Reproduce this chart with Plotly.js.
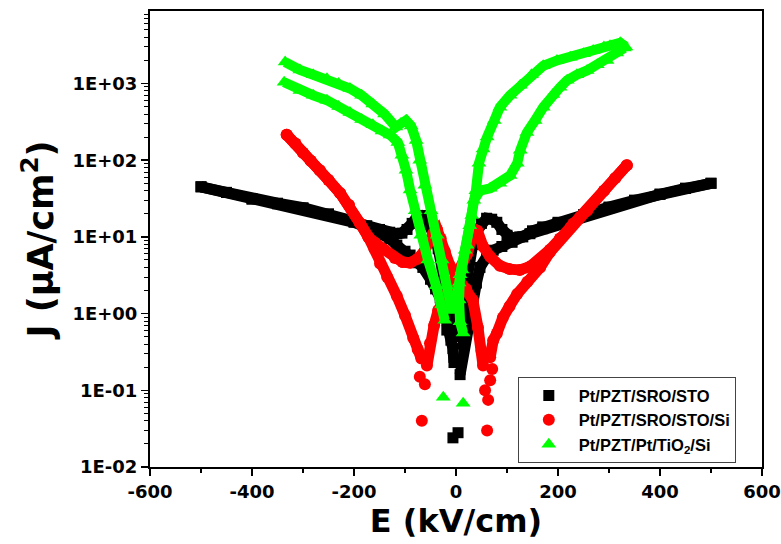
<!DOCTYPE html>
<html>
<head>
<meta charset="utf-8">
<script src="https://cdn.plot.ly/plotly-3.0.1.min.js"></script>
<style>html,body{margin:0;padding:0;background:#fff}#chart{width:781px;height:544px}</style>
</head>
<body>
<div id="chart"></div>
<script>
// ---- series names ----
const seriesNames = ['Pt/PZT/SRO/STO', 'Pt/PZT/SRO/STO/Si', 'Pt/PZT/Pt/TiO<sub>2</sub>/Si'];

// ---- Pt/PZT/SRO/STO (E in kV/cm, J in µA/cm²); null separates sweep segments ----
const blackE = [
  -500,-450,-400,-350,-300,-250,-200,-170,-150,-130,-116,-100,-90,-75,-65,-50,-40,-31,-24,-18,-10,-6,-4, null,
  -6, null, 4, null,
  2,8,14,20,26,33,41,50,60,70,80,90,100,110,125,145,170,200,250,300,350,400,450,500, null,
  500,450,400,350,300,250,200,170,150,131,110,90,73,60,47,40,33,27,20,14,8, null,
  -2,-8,-14,-20,-27,-35,-43,-52,-60,-68,-76,-86,-96,-106,-116,-130,-150,-175,-200,-250,-300,-350,-400,-450,-500
];
const blackJ = [
  45,38,31,27,23.5,19.5,15.5,13,11.5,9.5,7.8,6.5,5.8,4.6,4.0,2.8,2.1,1.6,1.1,0.61,0.45,0.35,0.23, null,
  0.024, null, 0.028, null,
  0.5,0.9,1.6,2.8,5,8,12,15,17.5,17,15.5,12.5,10.5,9.6,10,11,12.8,15,19,24,30,36,43,50, null,
  50,43,36,30,24.5,19.5,15.5,13.5,12,10,8.5,7.5,6.7,5.5,4,2.5,1.4,0.9,0.6,0.4,0.16, null,
  0.55,0.9,1.5,2.5,4.2,7,10.5,14.5,17.5,19,18.5,15,12.5,11.2,11,11.5,12.5,14,16,20,24,27.5,31.5,38,45
];

// ---- Pt/PZT/SRO/STO/Si ----
const redE = [
  -332,-315,-300,-285,-267,-250,-227,-210,-188,-172,-160,-149,-135,-116,-100,-84,-75,-68, null,
  -71, null, -61, null, -67, null,
  -57,-51,-43,-35,-20,0,12,22,30,36,42,53,67,86,105,125,145,165,184,204,225,243,257,290,312,335, null,
  335,312,290,257,230,204,184,165,140,120,105,92,80,73,67, null,
  71, null, 67, null, 57, null, 63, null, 61, null,
  53,50,43,33,20,0,-12,-22,-30,-37,-45,-51,-62,-75,-90,-105,-120,-140,-160,-172,-188,-210,-227,-250,-267,-285,-300,-315,-332
];
const redJ = [
  215,165,125,98,74,55,37,26,15,10,7,4.5,3,1.7,0.95,0.48,0.34,0.26, null,
  0.15, null, 0.12, null, 0.04, null,
  0.21,0.41,0.7,1.1,1.7,2.8,3.8,6,9.5,12.5,12,7.5,5.5,4.2,3.8,3.7,4.1,5.1,6.8,9.5,13.5,18,22,40,58,86, null,
  86,58,40,22,15,9.5,6.3,4,2.6,1.8,1.25,0.89,0.55,0.45,0.27, null,
  0.19, null, 0.135, null, 0.1, null, 0.075, null, 0.03, null,
  0.21,0.33,0.66,1.5,2.1,3,4.2,6.5,9.5,12.5,11,9,6.5,5.2,4.6,4.7,5.3,6.8,8.5,10,15,26,37,55,74,98,125,165,215
];

// ---- Pt/PZT/Pt/TiO2/Si ----
const greenE = [
  -337,-306,-280,-253,-230,-208,-185,-163,-145,-129,-114,-106,-98,-90,-80,-69,-55,-39,-28,-22, null,
  -25, null,
  0,6,12,22,31,39,45,53,61,75,86,106,126,148,171,198,224,250,269,290,302,322,333, null,
  330,315,296,277,257,237,218,204,190,171,155,139,126,120,106,86,67,47,35,27,18,8,6,8,14, null,
  14, null,
  -8,-18,-27,-37,-49,-61,-71,-78,-88,-98,-108,-118,-140,-163,-185,-208,-230,-253,-280,-306,-335
];
const greenJ = [
  1040,810,700,605,500,420,340,290,240,213,170,116,74,41,22,10.5,5,2.3,1.3,0.82, null,
  0.081, null,
  1.5,2.5,3.7,7.8,19,40,91,140,200,330,490,700,950,1300,1700,2000,2200,2450,2700,3000,3100,3400,3000, null,
  2900,2500,2000,1750,1480,1300,1100,890,720,490,330,230,135,91,63,50,43,40,30,14,6.7,3.2,1.5,0.78,0.56, null,
  0.068, null,
  1.1,2.3,5,10.5,22,47,100,180,280,330,300,270,400,540,700,860,1000,1150,1300,1500,1900
];

// ---- axis ticks ----
const xTickVals = [-600,-400,-200,0,200,400,600];
const xTickText = ['-600','-400','-200','0','200','400','600'];
const xMinorVals = [-500,-300,-100,100,300,500];
const yTickVals = [0.01,0.1,1,10,100,1000];
const yTickText = ['1E-02','1E-01','1E+00','1E+01','1E+02','1E+03'];
const yMinorVals = [0.02,0.03,0.04,0.05,0.06,0.07,0.08,0.09,
                    0.2,0.3,0.4,0.5,0.6,0.7,0.8,0.9,
                    2,3,4,5,6,7,8,9,
                    20,30,40,50,60,70,80,90,
                    200,300,400,500,600,700,800,900,
                    2000,3000,4000,5000,6000,7000,8000];

const colors = ['#000000','#ff0000','#00ff00'];
const symbols = ['square','circle','triangle-up'];
const markerSizes = [11,12,13];
const bandWidths = [11,11,10];
const xs = [blackE, redE, greenE];
const ys = [blackJ, redJ, greenJ];

const traces = [];
for (let i = 0; i < 3; i++) {
  traces.push({
    x: xs[i], y: ys[i], type: 'scatter', mode: 'lines',
    line: {color: colors[i], width: bandWidths[i]},
    connectgaps: false, showlegend: false, hoverinfo: 'skip'
  });
  traces.push({
    x: xs[i], y: ys[i], type: 'scatter', mode: 'markers', name: seriesNames[i],
    marker: {color: colors[i], symbol: symbols[i], size: markerSizes[i], line: {width: 0}}
  });
}

const tickFont = {family: 'DejaVu Sans', size: 18, color: '#000', weight: 'bold'};
const xTitleFont = {family: 'DejaVu Sans', size: 32, color: '#000', weight: 'bold'};
const yTitleFont = {family: 'DejaVu Sans', size: 35, color: '#000', weight: 'bold'};

const layout = {
  width: 781, height: 544,
  margin: {l: 150, r: 19, t: 11, b: 77, pad: 0},
  paper_bgcolor: '#ffffff', plot_bgcolor: '#ffffff',
  showlegend: true,
  xaxis: {
    range: [-600, 600], tickmode: 'array', tickvals: xTickVals, ticktext: xTickText,
    ticks: 'outside', ticklen: 7, tickwidth: 1.5, tickcolor: '#000',
    minor: {tickmode: 'array', tickvals: xMinorVals, ticks: 'outside', ticklen: 4, tickwidth: 1.5, tickcolor: '#000', showgrid: false},
    showline: true, linecolor: '#000', linewidth: 2, mirror: true,
    showgrid: false, zeroline: false, tickfont: tickFont,
    title: {text: 'E (kV/cm)', font: xTitleFont, standoff: 4}
  },
  yaxis: {
    type: 'log', range: [-2, 3.945], tickmode: 'array', tickvals: yTickVals, ticktext: yTickText,
    ticks: 'outside', ticklen: 7, tickwidth: 1.5, tickcolor: '#000',
    minor: {tickmode: 'array', tickvals: yMinorVals, ticks: 'outside', ticklen: 4, tickwidth: 1, tickcolor: '#000', showgrid: false},
    showline: true, linecolor: '#000', linewidth: 2, mirror: true,
    showgrid: false, zeroline: false, tickfont: tickFont,
    title: {text: 'J (μA/cm<sup>2</sup>)', font: yTitleFont, standoff: 8}
  },
  legend: {
    x: 0.601, y: 0.197, xanchor: 'left', yanchor: 'top',
    bgcolor: '#ffffff', bordercolor: '#444444', borderwidth: 1, itemwidth: 50,
    font: {family: 'Liberation Sans', size: 16.5, color: '#000', weight: 'bold'}
  }
};

Plotly.newPlot('chart', traces, layout, {displayModeBar: false, staticPlot: true});
</script>
</body>
</html>
